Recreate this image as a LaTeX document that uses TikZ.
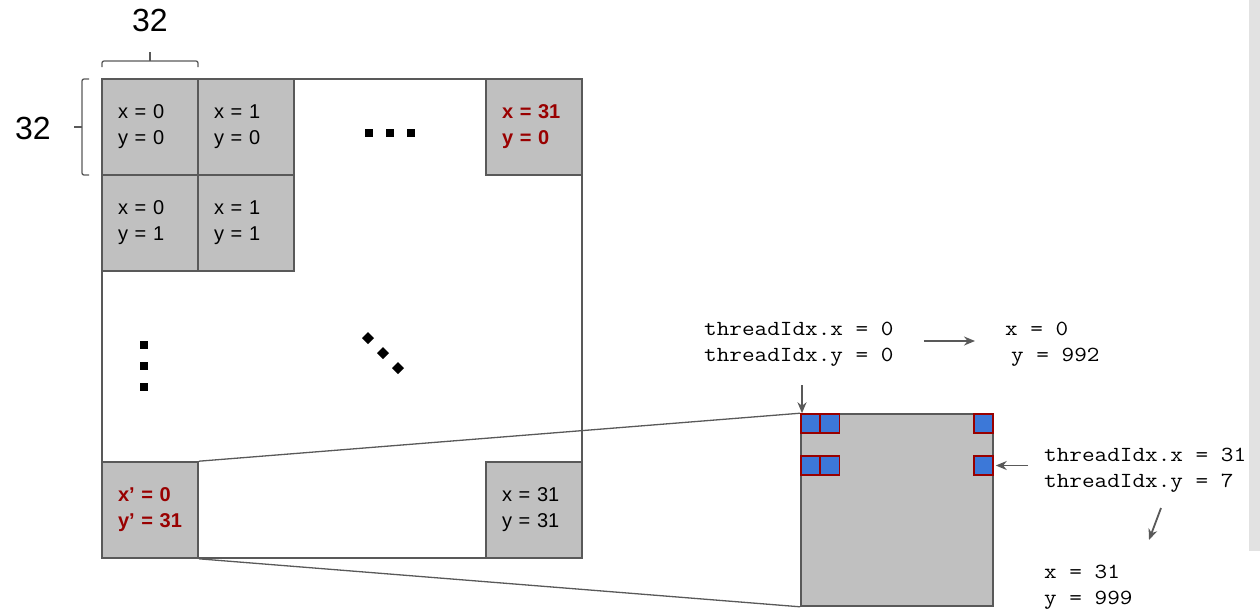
\documentclass[tikz,border=0pt]{standalone}
\usepackage{fontspec}
\setmainfont{Liberation Sans}
\setmonofont[FakeStretch=1.14]{Latin Modern Mono}
\usetikzlibrary{positioning, arrows.meta}

\definecolor{cellgray}{RGB}{192,192,192}
\definecolor{edgegray}{RGB}{89,89,89}
\definecolor{darkred}{RGB}{153,0,0}
\definecolor{threadblue}{RGB}{60,120,216}
\definecolor{bargray}{RGB}{226,226,226}

\tikzstyle{cell} = [rectangle, draw=edgegray, line width=1.6pt, fill=cellgray, minimum size=96pt, inner sep=0pt, text width=64pt, align=left, font=\fontsize{20}{26}\selectfont]
\tikzstyle{redcell} = [text=darkred, font=\fontsize{20}{26}\selectfont\bfseries]
\tikzstyle{thread} = [rectangle, draw=darkred, line width=1.5pt, fill=threadblue, minimum size=19pt, inner sep=0pt]
\tikzstyle{code} = [inner sep=0pt, anchor=west, align=left, font=\fontsize{21.5}{26}\selectfont\ttfamily]
\tikzstyle{brace} = [draw=edgegray, line width=1.3pt, rounded corners=2pt]
\tikzstyle{arrow} = [draw=edgegray, line width=1.8pt, -{Stealth[length=11pt,width=9pt]}]

\begin{document}
\begin{tikzpicture}[x=1pt, y=1pt, node distance=96pt, on grid]
\useasboundingbox (0,0) rectangle (1260,-611);
\fill[bargray] (1249,0) rectangle (1260,-551);

% the whole block
\node (grid) [draw=edgegray, line width=1.6pt, minimum width=480pt, minimum height=479pt] at (342,-318.5) {};

\node (c00) [cell] at (150,-127) {x = 0\\y = 0};
\node (c10) [cell, right=of c00] {x = 1\\y = 0};
\node (c01) [cell, below=of c00] {x = 0\\y = 1};
\node (c11) [cell, right=of c01] {x = 1\\y = 1};
\node (c310) [cell, redcell] at (534,-127) {x = 31\\y = 0};
\node (c031) [cell, redcell] at (150,-510) {x’ = 0\\y’ = 31};
\node (c3131) [cell] at (534,-510) {x = 31\\y = 31};

% sizes
\draw[brace] (102,-67) -- (102,-61) -- (198,-61) -- (198,-67);
\draw[brace] (150,-61) -- (150,-52);
\node (wlabel) at (150,-20) {\fontsize{32}{36}\selectfont 32};
\draw[brace] (89,-79) -- (82,-79) -- (82,-175) -- (89,-175);
\draw[brace] (82,-127) -- (74,-127);
\node (hlabel) at (33,-128) {\fontsize{32}{36}\selectfont 32};

% ellipsis marks
\fill (365,-129) rectangle (373,-137);
\fill (386,-129) rectangle (394,-137);
\fill (407,-129) rectangle (415,-137);
\fill (140,-341) rectangle (148,-349);
\fill (140,-362) rectangle (148,-370);
\fill (140,-383) rectangle (148,-391);
\fill (368,-332) -- (374,-338) -- (368,-344) -- (362,-338) -- cycle;
\fill (383,-347) -- (389,-353) -- (383,-359) -- (377,-353) -- cycle;
\fill (398,-362) -- (404,-368) -- (398,-374) -- (392,-368) -- cycle;

% enlarged block
\node (zoom) [draw=edgegray, line width=1.6pt, fill=cellgray, minimum size=192pt, inner sep=0pt] at (897,-510) {};
\draw[edgegray, line width=1.3pt] (c031.north east) -- (zoom.north west);
\draw[edgegray, line width=1.3pt] (c031.south east) -- (zoom.south west);

\node (b00) [thread] at (810.5,-423.5) {};
\node (b10) [thread] at (830,-423.5) {};
\node (b310) [thread] at (983.5,-423.5) {};
\node (b07) [thread] at (810.5,-465.5) {};
\node (b17) [thread] at (830,-465.5) {};
\node (b317) [thread] at (983.5,-465.5) {};

% thread indices
\node (t0) [code] at (704,-344) {threadIdx.x = 0\\threadIdx.y = 0};
\node (r0) [code] at (1005,-344) {x = 0\\\hspace*{6pt}y = 992};
\node (t1) [code] at (1044,-470) {threadIdx.x = 31\\threadIdx.y = 7};
\node (r1) [code] at (1044,-587) {x = 31\\y = 999};

\coordinate (p0) at (802,-385);
\draw[arrow] (p0) -- (p0 |- b00.north);
\draw[arrow, shorten <=30pt, shorten >=30pt] (t0.east |- 0,-341) -- (r0.west |- 0,-341);
\draw[arrow, shorten <=16pt, shorten >=2pt] (b317.east -| t1.west) -- (b317.east);
\coordinate (q0) at (1161,-508);
\coordinate (q1) at (1149,-540);
\draw[arrow] (q0) -- (q1);
\end{tikzpicture}
\end{document}
